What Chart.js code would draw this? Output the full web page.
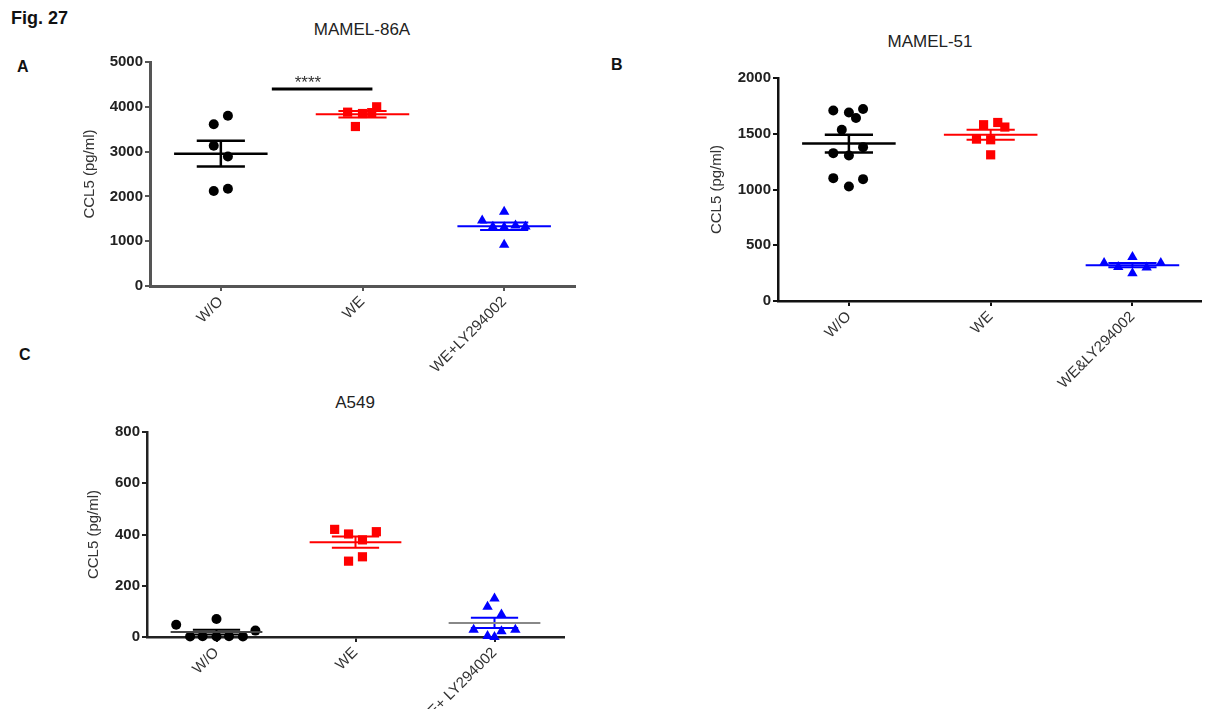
<!DOCTYPE html>
<html>
<head>
<meta charset="utf-8">
<title>Fig. 27 - CCL5</title>
<script src="https://cdn.jsdelivr.net/npm/chart.js@4.4.0/dist/chart.umd.min.js"></script>
<style>
  body { margin: 0; background: #fff; width: 1207px; height: 709px; position: relative; overflow: hidden;
         font-family: 'Liberation Sans', Arial, sans-serif; }
  .lbl { position: absolute; color: #111; white-space: nowrap; }
  .ttl { position: absolute; color: #222; white-space: nowrap; font-size: 17px; transform: translate(-50%, -50%); }
  .box { position: absolute; }
</style>
</head>
<body>
<div class="lbl" style="left:11px;top:8px;font-weight:bold;font-size:18px;">Fig. 27</div>
<div class="lbl" style="left:17px;top:58px;font-weight:bold;font-size:16px;">A</div>
<div class="lbl" style="left:611px;top:56px;font-weight:bold;font-size:16px;">B</div>
<div class="lbl" style="left:19px;top:346px;font-weight:bold;font-size:16px;">C</div>
<div class="ttl" style="left:362px;top:30px;">MAMEL-86A</div>
<div class="ttl" style="left:930px;top:42px;">MAMEL-51</div>
<div class="ttl" style="left:355px;top:403px;">A549</div>

<div class="box" style="left:60px;top:40px;width:525px;height:356px"><canvas id="chartA"></canvas></div>
<div class="box" style="left:690px;top:55px;width:517px;height:356px"><canvas id="chartB"></canvas></div>
<div class="box" style="left:60px;top:410px;width:514px;height:299px"><canvas id="chartC"></canvas></div>

<script>
// ---- data (CCL5, pg/ml) ----
const groupsA = ['W/O', 'WE', 'WE+LY294002'];
const groupsB = ['W/O', 'WE', 'WE&LY294002'];
const groupsC = ['W/O', 'WE', 'WE+ LY294002'];

// panel A, MAMEL-86A
const woA = [3800, 3610, 3130, 2890, 2170, 2120];
const weA = [3880, 3560, 3850, 3870, 4000];
const lyA = [1460, 1320, 1660, 920, 1310, 1350, 1330];
// panel B, MAMEL-51
const woB = [1709, 1691, 1641, 1722, 1536, 1380, 1326, 1305, 1102, 1093, 1027];
const weB = [1581, 1601, 1560, 1452, 1446, 1311];
const lyB = [340, 395, 340, 250, 305, 300];
// panel C, A549
const woC = [48, 2, 3, 2, 70, 3, 2, 25];
const weC = [420, 402, 379, 411, 296, 313];
const lyC = [150, 118, 88, 28, 4, 22, 28, 0];

// horizontal scatter of the dots inside each column (category units)
const jitWoA = [0.05, -0.05, -0.05, 0.05, 0.05, -0.05];
const jitWeA = [-0.105, -0.05, 0, 0.065, 0.10];
const jitLyA = [-0.155, -0.08, 0, 0, 0, 0.08, 0.15];
const jitWoB = [-0.11, 0, 0.05, 0.10, -0.05, 0.10, -0.11, 0, -0.11, 0.10, 0];
const jitWeB = [-0.05, 0.05, 0.10, -0.10, 0, 0];
const jitLyB = [-0.20, 0, 0.20, 0, -0.10, 0.10];
const jitWoC = [-0.29, -0.19, -0.10, 0, 0, 0.09, 0.19, 0.28];
const jitWeC = [-0.15, -0.05, 0.05, 0.15, -0.05, 0.05];
const jitLyC = [0, -0.05, 0.05, -0.15, -0.05, 0.05, 0.15, 0];

// significance bar WE vs W/O in A
const sigFrom = 1.36, sigTo = 2.07, sigY = 4400;
const sigText = '****';

const FONT = "'Liberation Sans', Arial, sans-serif";
const MEAN_HALF = 0.33;
const CAP_HALF = 0.17;

const mean = a => a.reduce((s, v) => s + v, 0) / a.length;
const sem = a => {
  const m = mean(a);
  const sd = Math.sqrt(a.reduce((s, v) => s + (v - m) * (v - m), 0) / (a.length - 1));
  return sd / Math.sqrt(a.length);
};

function seg(x1, x2, y1, y2, color, width) {
  return {
    type: 'scatter', showLine: true,
    data: [{ x: x1, y: y1 }, { x: x2, y: y2 }],
    borderColor: color, borderWidth: width,
    pointRadius: 0, order: 0, clip: false
  };
}

function group(values, jitter, center, st) {
  const m = mean(values), s = sem(values);
  const lc = st.meanColor || st.color;
  return [
    seg(center - MEAN_HALF, center + MEAN_HALF, m, m, lc, st.lw),
    seg(center - CAP_HALF, center + CAP_HALF, m + s, m + s, st.color, st.lw),
    seg(center - CAP_HALF, center + CAP_HALF, m - s, m - s, st.color, st.lw),
    seg(center, center, m - s, m + s, st.color, st.lw),
    {
      type: 'scatter',
      data: values.map((v, i) => ({ x: center + jitter[i], y: v })),
      pointStyle: st.marker, pointRadius: st.r,
      backgroundColor: st.color, borderColor: st.color, borderWidth: 0,
      order: 1, clip: false
    }
  ];
}

function makeChart(id, o) {
  const axisColor = o.axisColor;
  return new Chart(document.getElementById(id), {
    type: 'scatter',
    data: { datasets: o.datasets },
    options: {
      responsive: true, maintainAspectRatio: false, animation: false,
      layout: { padding: { top: o.padTop, right: o.padRight, bottom: 0, left: 0 } },
      plugins: { legend: { display: false }, tooltip: { enabled: false } },
      scales: {
        x: {
          type: 'linear', min: 0.5, max: o.xMax,
          afterBuildTicks: axis => { axis.ticks = [1, 2, 3].map(v => ({ value: v })); },
          afterFit: axis => { axis.height = o.xHeight; },
          ticks: {
            autoSkip: false, minRotation: 45, maxRotation: 45, padding: 2,
            color: '#333', font: { family: FONT, size: 15 },
            callback: v => o.groups[v - 1]
          },
          grid: { drawOnChartArea: false, drawTicks: true, tickLength: 5, color: axisColor, lineWidth: 2 },
          border: { display: true, color: axisColor, width: o.axisWidth }
        },
        y: {
          min: 0, max: o.yMax,
          afterFit: axis => { axis.width = o.yWidth; },
          ticks: {
            stepSize: o.yStep, padding: 2, color: '#222',
            font: { family: FONT, size: 15, weight: 'bold' },
            callback: v => String(v)
          },
          grid: { drawOnChartArea: false, drawTicks: true, tickLength: 5, color: axisColor, lineWidth: 2 },
          border: { display: true, color: axisColor, width: o.axisWidth },
          title: { display: true, text: 'CCL5 (pg/ml)', color: '#333', font: { family: FONT, size: 15 }, padding: { top: o.titlePad, bottom: 0 } }
        }
      }
    },
    plugins: o.plugins || []
  });
}

const black = { color: '#000', marker: 'circle', r: 5, lw: 2.5 };
const red = { color: '#ff0000', marker: 'rect', r: 6.5, lw: 2 };
const blue = { color: '#0000ff', marker: 'triangle', r: 6, lw: 2 };

const starsPlugin = {
  id: 'stars',
  afterDatasetsDraw(chart) {
    const { ctx, scales: { x, y } } = chart;
    ctx.save();
    ctx.font = '17px ' + FONT;
    ctx.fillStyle = '#333';
    ctx.textAlign = 'center';
    ctx.textBaseline = 'middle';
    ctx.fillText(sigText, x.getPixelForValue((sigFrom + sigTo) / 2 - 0.1), y.getPixelForValue(sigY) - 6);
    ctx.restore();
  }
};

makeChart('chartA', {
  groups: groupsA, yMax: 5000, yStep: 1000, xMax: 3.5,
  padTop: 22, padRight: 10, yWidth: 90, xHeight: 110, titlePad: 21,
  axisColor: '#555', axisWidth: 3,
  datasets: [
    seg(sigFrom, sigTo, sigY, sigY, '#000', 3),
    ...group(woA, jitWoA, 1, black),
    ...group(weA, jitWeA, 2, red),
    ...group(lyA, jitLyA, 3, blue)
  ],
  plugins: [starsPlugin]
});

makeChart('chartB', {
  groups: groupsB, yMax: 2000, yStep: 500, xMax: 3.48,
  padTop: 23, padRight: 0, yWidth: 88, xHeight: 110, titlePad: 18,
  axisColor: '#111', axisWidth: 2.5,
  datasets: [
    ...group(woB, jitWoB, 1, black),
    ...group(weB, jitWeB, 2, red),
    ...group(lyB, jitLyB, 3, blue)
  ]
});

makeChart('chartC', {
  groups: groupsC, yMax: 800, yStep: 200, xMax: 3.5,
  padTop: 22, padRight: 10, yWidth: 87, xHeight: 72, titlePad: 25,
  axisColor: '#222', axisWidth: 2.5,
  datasets: [
    ...group(woC, jitWoC, 1, { ...black, lw: 2, meanColor: '#444' }),
    ...group(weC, jitWeC, 2, red),
    ...group(lyC, jitLyC, 3, { ...blue, meanColor: '#888' })
  ]
});
</script>
</body>
</html>
